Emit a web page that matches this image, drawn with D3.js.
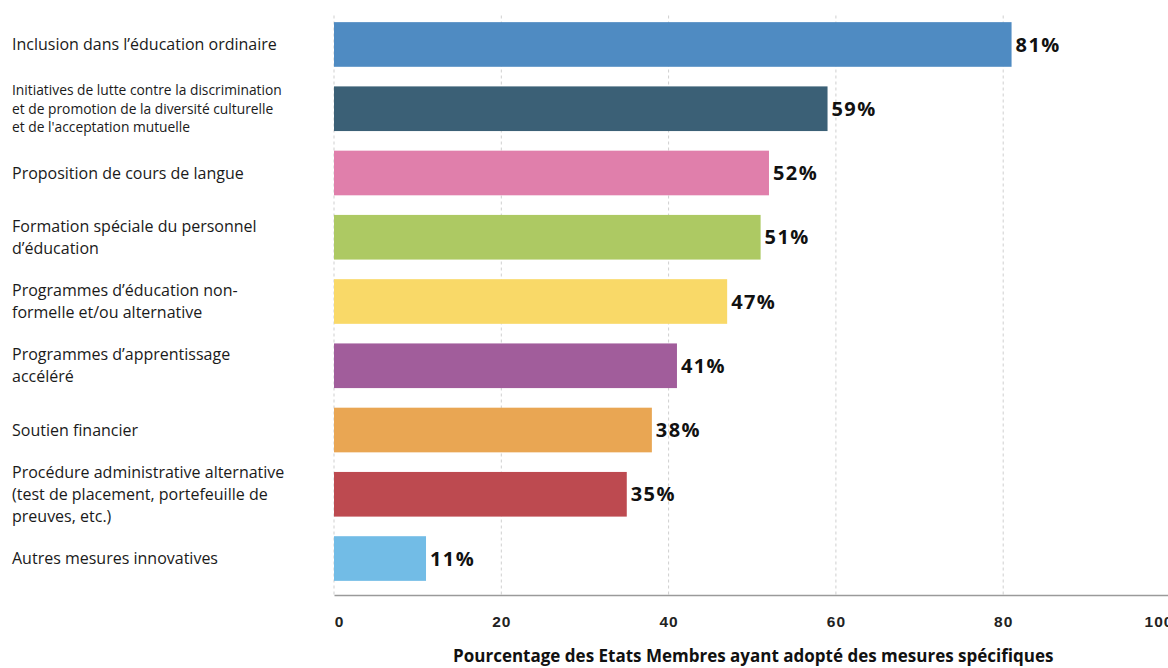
<!DOCTYPE html>
<html>
<head>
<meta charset="utf-8">
<script src="https://cdn.jsdelivr.net/npm/d3@7"></script>
<style>
  body { margin: 0; background: #fff; }
  svg { display: block; font-family: "Open Sans", sans-serif; }
  .cat { font-size: 16px; fill: #1a1a1a; }
  .cat.small { font-size: 13.8px; }
  .val { font-size: 20px; font-weight: 700; fill: #111; letter-spacing: 1.4px; }
  .axis--x text { font-size: 15.5px; font-weight: 700; fill: #222; letter-spacing: 1px; }
  .axis--x path { stroke: #9a9a9a; stroke-width: 1.5; }
  .grid line { stroke: #cfcfcf; stroke-dasharray: 3,3; }
  .xtitle { font-size: 17px; font-weight: 700; fill: #111; }
</style>
</head>
<body>
<svg width="1168" height="668"></svg>
<script>
  // Catégories (lignes des étiquettes) et valeurs
  var categories = [
    ["Inclusion dans l\u2019éducation ordinaire"],
    ["Initiatives de lutte contre la discrimination", "et de promotion de la diversité culturelle", "et de l'acceptation mutuelle"],
    ["Proposition de cours de langue"],
    ["Formation spéciale du personnel", "d\u2019éducation"],
    ["Programmes d\u2019éducation non-", "formelle et/ou alternative"],
    ["Programmes d\u2019apprentissage", "accéléré"],
    ["Soutien financier"],
    ["Procédure administrative alternative", "(test de placement, portefeuille de", "preuves, etc.)"],
    ["Autres mesures innovatives"]
  ];
  var values = [81, 59, 52, 51, 47, 41, 38, 35, 11];
  var colors = ["#4f8bc2", "#3b6076", "#e07fab", "#adc963", "#f9d968", "#a15d9b", "#e9a653", "#bd4a50", "#72bce6"];
  var ticks = [0, 20, 40, 60, 80, 100];
  var xTitle = "Pourcentage des Etats Membres ayant adopté des mesures spécifiques";

  var svg = d3.select("svg"),
      margin = {top: 12.5, right: 0, bottom: 73, left: 334},
      width = 836.5,
      height = +svg.attr("height") - margin.top - margin.bottom,
      g = svg.append("g").attr("transform", "translate(" + margin.left + "," + margin.top + ")");

  var idx = d3.range(values.length);

  var x = d3.scaleLinear()
      .domain([0, 100])
      .range([0, width]);

  var y = d3.scaleBand()
      .domain(idx)
      .range([0, height - 4.5])
      .paddingInner(0.305)
      .paddingOuter(0.15);

  // grille verticale pointillée
  g.append("g")
      .attr("class", "grid")
    .selectAll("line")
    .data(ticks)
    .enter().append("line")
      .attr("x1", function(d) { return x(d); })
      .attr("x2", function(d) { return x(d); })
      .attr("y1", 3)
      .attr("y2", height);

  g.selectAll(".bar")
    .data(idx)
    .enter().append("rect")
      .attr("class", "bar")
      .attr("x", 0)
      .attr("y", function(i) { return y(i); })
      .attr("width", function(i) { return x(values[i]); })
      .attr("height", y.bandwidth())
      .attr("fill", function(i) { return colors[i]; });

  g.selectAll(".val")
    .data(idx)
    .enter().append("text")
      .attr("class", "val")
      .attr("x", function(i) { return x(values[i]) + 4; })
      .attr("y", function(i) { return y(i) + y.bandwidth() / 2; })
      .attr("dy", "0.36em")
      .text(function(i) { return values[i] + "%"; });

  // étiquettes des catégories à gauche
  var cat = svg.append("g").selectAll(".cat")
    .data(idx)
    .enter().append("text")
      .attr("class", function(i) { return i === 1 ? "cat small" : "cat"; })
      .attr("x", 12)
      .attr("y", function(i) { return margin.top + y(i) + y.bandwidth() / 2; });

  cat.selectAll("tspan")
    .data(function(i) {
      var lines = categories[i], lh = i === 1 ? 18.5 : 22;
      return lines.map(function(t, k) { return {t: t, dy: (k - (lines.length - 1) / 2) * lh}; });
    })
    .enter().append("tspan")
      .attr("x", 12)
      .attr("y", function(d) { return +this.parentNode.getAttribute("y") + d.dy; })
      .attr("dy", "0.35em")
      .text(function(d) { return d.t; });

  var xAxis = g.append("g")
      .attr("class", "axis axis--x")
      .attr("transform", "translate(0," + height + ")")
      .call(d3.axisBottom(x)
          .tickValues(ticks)
          .tickSize(0)
          .tickSizeOuter(0)
          .tickPadding(21));

  xAxis.selectAll(".tick text")
      .attr("dx", function(d) { return d === 0 ? 5 : (d === 100 ? -12 : 0); });

  svg.append("text")
      .attr("class", "xtitle")
      .attr("x", margin.left + width / 2 + 1)
      .attr("y", 662)
      .attr("text-anchor", "middle")
      .text(xTitle);
</script>
</body>
</html>
